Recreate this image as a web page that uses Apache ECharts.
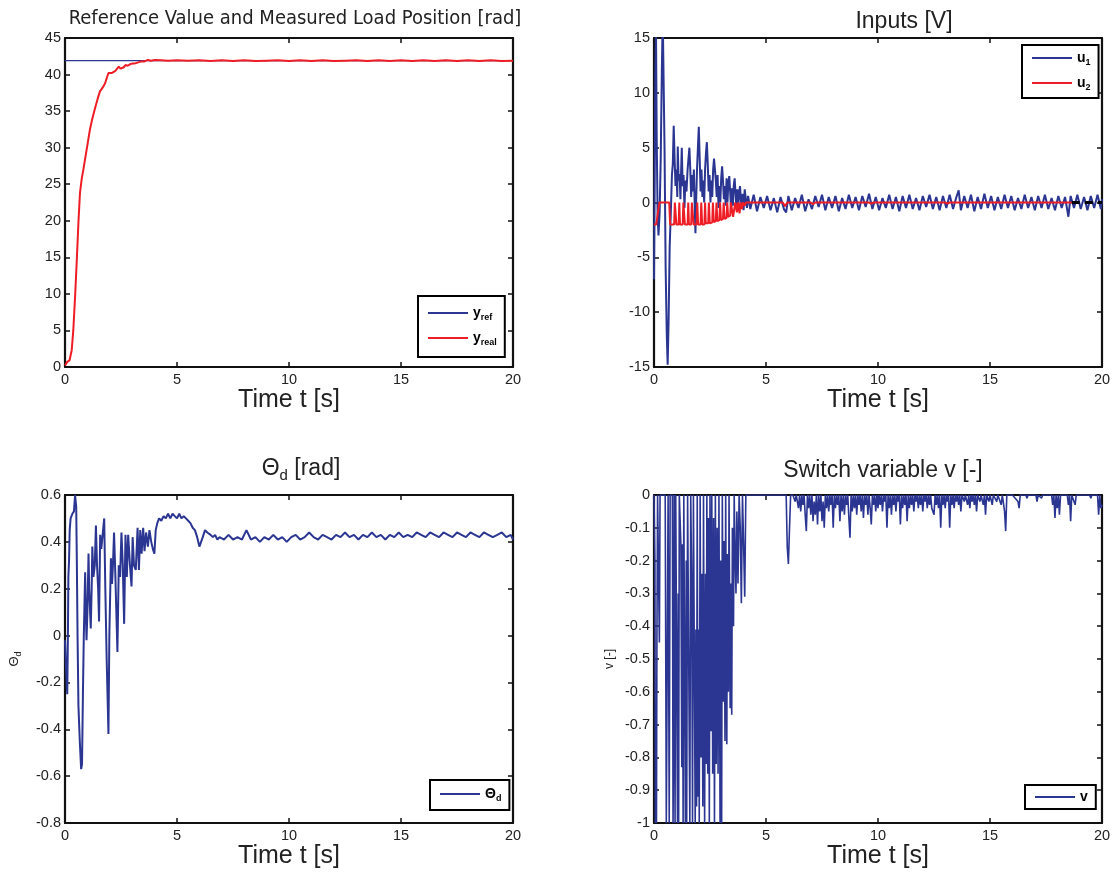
<!DOCTYPE html>
<html><head><meta charset="utf-8">
<script src="https://cdn.jsdelivr.net/npm/echarts@6/dist/echarts.min.js"></script>
<style>html,body{margin:0;padding:0;background:#fff}#c{width:1115px;height:875px}</style>
</head><body><div id="c"></div>
<script>
// ---------- data (time [s], value) ----------
const xTicks = [0, 5, 10, 15, 20];
const yRef = [[0, 41.9], [20, 41.9]];
const yReal = [[0,0.2],[0.1,0.7],[0.2,0.9],[0.3,2.3],[0.37,5],[0.45,9.6],[0.52,14.2],[0.6,19.8],[0.67,23.9],[0.75,25.8],[0.82,27],[0.9,28.5],[0.97,29.8],[1.05,31.3],[1.12,32.6],[1.2,33.7],[1.34,35.4],[1.45,36.6],[1.56,37.7],[1.68,38.2],[1.79,38.8],[1.87,39.6],[1.94,40.2],[2.0,40.1],[2.08,40.2],[2.15,40.0],[2.25,40.5],[2.4,41.1],[2.48,40.8],[2.55,40.9],[2.62,41.0],[2.7,41.3],[2.8,41.2],[2.9,41.4],[3.0,41.5],[3.1,41.5],[3.2,41.6],[3.3,41.7],[3.4,41.8],[3.55,41.8],[3.7,42.0],[3.85,41.9],[4.0,42.0],[4.3,41.95],[4.6,41.9],[5,41.95],[5.5,41.9],[6,41.95],[6.5,41.85],[7,41.95],[7.5,41.85],[8,41.95],[8.5,41.85],[9,41.9],[9.5,41.95],[10,41.85],[10.5,41.95],[11,41.85],[11.5,41.95],[12,41.85],[12.5,41.9],[13,41.95],[13.5,41.85],[14,41.95],[14.5,41.85],[15,41.95],[15.5,41.85],[16,41.95],[16.5,41.85],[17,41.95],[17.5,41.85],[18,41.95],[18.5,41.85],[19,41.95],[19.5,41.85],[20,41.9]];

const u1 = [[0,-7],[0.03,2],[0.06,12],[0.09,15.5],[0.12,6],[0.16,-1],[0.2,-3],[0.25,-1],[0.3,4],[0.35,12],[0.39,17],[0.43,17],[0.47,5],[0.52,-6],[0.57,-12],[0.61,-14.8],[0.65,-11],[0.7,-4],[0.75,-1],[0.8,2.5],[0.84,3.5],[0.88,7],[0.92,4],[0.96,1.5],[1.0,3],[1.04,0.5],[1.06,5.1],[1.1,2],[1.14,2.6],[1.18,0.3],[1.21,2.8],[1.24,5],[1.28,1.5],[1.32,2.5],[1.36,-0.5],[1.4,2],[1.45,1],[1.5,3],[1.54,4],[1.58,5],[1.62,3],[1.66,0.5],[1.7,2.5],[1.74,1],[1.78,3],[1.82,-0.5],[1.85,-2.8],[1.88,0],[1.92,3],[1.96,5],[2.0,6.9],[2.04,4],[2.08,1],[2.12,3],[2.16,0.5],[2.2,2],[2.24,0],[2.28,3],[2.32,4.5],[2.36,5.5],[2.4,3.5],[2.44,1],[2.48,2.5],[2.52,0],[2.56,2],[2.6,0.5],[2.64,3],[2.68,4],[2.72,4.1],[2.76,2],[2.8,0.5],[2.84,2.5],[2.88,-0.5],[2.92,1.5],[2.96,0],[3.0,2.2],[3.04,3.3],[3.08,2],[3.12,0.3],[3.16,1.5],[3.2,-0.3],[3.24,2.2],[3.28,0],[3.32,1.8],[3.36,2.4],[3.4,1],[3.44,-0.5],[3.48,1.3],[3.52,-0.3],[3.56,1.5],[3.6,2.2],[3.64,0.8],[3.68,-0.5],[3.72,1.2],[3.76,-0.6],[3.8,0.9],[3.84,1.5],[3.88,0.2],[3.92,-0.4],[3.96,0.8],[4.0,-0.7],[4.05,1.2],[4.1,0.3],[4.15,-0.5],[4.2,0.6],
[4.3,-0.6],[4.45,0.7],[4.6,-0.8],[4.75,0.5],[4.9,-0.5],[5.05,0.6],[5.2,-0.7],[5.35,0.4],[5.5,-0.9],[5.65,0.5],[5.8,-0.6],[5.9,-0.9],[6.0,0.6],[6.15,-0.7],[6.3,0.4],[6.45,-0.5],[6.6,0.7],[6.75,-0.8],[6.9,0.3],[7.05,-0.6],[7.2,0.6],[7.35,-0.4],[7.5,0.7],[7.65,-0.7],[7.8,0.5],[7.95,-0.5],[8.1,0.6],[8.25,-0.8],[8.4,0.4],[8.55,-0.6],[8.7,0.7],[8.85,-0.5],[9.0,0.5],[9.15,-0.7],[9.3,0.6],[9.45,-0.4],[9.6,0.8],[9.75,-0.6],[9.9,0.5],[10.05,-0.7],[10.2,0.4],[10.35,-0.5],[10.5,0.7],[10.65,-0.6],[10.8,0.5],[10.95,-0.8],[11.1,0.6],[11.25,-0.5],[11.4,0.7],[11.55,-0.6],[11.7,0.4],[11.85,-0.7],[12.0,0.6],[12.15,-0.4],[12.3,0.7],[12.45,-0.6],[12.6,0.5],[12.75,-0.7],[12.9,0.6],[13.05,-0.5],[13.2,0.7],[13.35,-0.6],[13.5,0.5],[13.6,1.1],[13.7,-0.7],[13.85,0.6],[14.0,-0.5],[14.15,0.7],[14.3,-0.8],[14.45,0.5],[14.6,-0.6],[14.75,0.8],[14.9,-0.5],[15.05,0.6],[15.2,-0.7],[15.35,0.5],[15.5,-0.6],[15.65,0.7],[15.8,-0.5],[15.95,0.6],[16.1,-0.7],[16.25,0.4],[16.4,-0.6],[16.55,0.7],[16.7,-0.5],[16.85,0.5],[17.0,-0.7],[17.15,0.6],[17.3,-0.5],[17.45,0.7],[17.6,-0.6],[17.75,0.4],[17.9,-0.7],[18.05,0.6],[18.2,-0.5],[18.35,0.5],[18.5,-1.3],[18.6,0.6],[18.75,-0.5],[18.9,0.7],[19.05,-0.6],[19.2,0.5],[19.35,-0.7],[19.5,0.6],[19.65,-0.5],[19.8,0.7],[19.95,-0.6],[20.0,0.3]];

const u2 = [[0,-2],[0.1,-2],[0.24,0],[0.68,0],[0.72,-2],[0.9,-2],[0.93,0],[0.97,0],[1.0,-2],[1.1,-2],[1.13,0],[1.16,-2],[1.28,-2],[1.31,0],[1.35,0],[1.38,-2],[1.5,-2],[1.53,0],[1.56,-2],[1.66,-2],[1.69,0],[1.74,0],[1.77,-2],[1.9,-2],[1.93,0],[1.97,-2],[2.08,-2],[2.11,0],[2.15,-2],[2.25,-2],[2.28,0],[2.31,-1.9],[2.42,-1.9],[2.45,0],[2.49,-1.9],[2.6,-1.8],[2.63,0],[2.67,-1.8],[2.76,-1.7],[2.79,0],[2.83,-1.7],[2.92,-1.6],[2.95,0],[2.99,-1.6],[3.08,-1.5],[3.11,0],[3.15,-1.5],[3.24,-1.4],[3.27,0],[3.31,-1.3],[3.4,-1.2],[3.43,0],[3.5,0],[3.53,-1.3],[3.6,-1.2],[3.63,0],[3.7,-0.9],[3.75,0],[3.82,-1.0],[3.86,0],[3.93,-0.6],[3.97,0],[4.05,-0.3],[4.1,0],[5.75,0],[5.85,-0.35],[5.95,0],[7.0,0],[7.1,-0.15],[7.2,0],[9.6,0],[9.7,-0.1],[9.8,0],[13.0,0],[13.1,-0.1],[13.2,0],[18.65,0]];
const zeroTail = [[18.65,0],[20,0]];

const thetaD = [[0,-0.02],[0.05,-0.15],[0.1,-0.25],[0.13,0.0],[0.15,0.25],[0.18,0.32],[0.21,0.45],[0.25,0.5],[0.33,0.52],[0.4,0.53],[0.45,0.6],[0.5,0.55],[0.53,0.3],[0.56,0.0],[0.6,-0.3],[0.66,-0.45],[0.72,-0.57],[0.76,-0.55],[0.8,-0.25],[0.84,0.0],[0.9,0.27],[0.93,0.1],[0.96,-0.02],[1.0,0.1],[1.05,0.35],[1.08,0.2],[1.15,0.03],[1.19,0.2],[1.22,0.38],[1.27,0.25],[1.33,0.3],[1.38,0.47],[1.43,0.3],[1.48,0.2],[1.52,0.06],[1.57,0.43],[1.62,0.37],[1.67,0.42],[1.75,0.5],[1.8,0.2],[1.86,-0.1],[1.94,-0.42],[1.98,0.0],[2.05,0.33],[2.1,0.22],[2.14,0.3],[2.19,0.44],[2.25,0.25],[2.34,-0.07],[2.4,0.3],[2.46,0.25],[2.52,0.44],[2.58,0.3],[2.64,0.05],[2.7,0.43],[2.76,0.25],[2.82,0.43],[2.9,0.3],[2.97,0.21],[3.02,0.42],[3.08,0.3],[3.16,0.28],[3.24,0.46],[3.3,0.28],[3.36,0.45],[3.42,0.35],[3.49,0.46],[3.55,0.36],[3.62,0.44],[3.7,0.38],[3.77,0.45],[3.85,0.4],[3.92,0.37],[3.99,0.35],[4.05,0.45],[4.12,0.48],[4.2,0.5],[4.3,0.49],[4.4,0.51],[4.5,0.5],[4.6,0.52],[4.7,0.5],[4.8,0.52],[4.9,0.51],[5.0,0.5],[5.1,0.52],[5.2,0.5],[5.3,0.51],[5.4,0.5],[5.5,0.49],[5.6,0.48],[5.7,0.46],[5.8,0.45],[5.9,0.42],[6.0,0.38],[6.05,0.38],[6.15,0.42],[6.25,0.45],[6.35,0.44],[6.5,0.43],[6.6,0.42],[6.7,0.43],[6.8,0.41],[6.9,0.42],[7.1,0.41],[7.3,0.43],[7.5,0.41],[7.7,0.42],[7.9,0.41],[8.1,0.45],[8.3,0.41],[8.5,0.42],[8.7,0.40],[8.9,0.42],[9.1,0.41],[9.3,0.43],[9.5,0.41],[9.7,0.42],[9.9,0.40],[10.1,0.42],[10.3,0.43],[10.5,0.41],[10.7,0.42],[10.9,0.44],[11.1,0.42],[11.3,0.41],[11.5,0.43],[11.7,0.42],[11.9,0.41],[12.1,0.43],[12.3,0.42],[12.5,0.44],[12.7,0.42],[12.9,0.43],[13.1,0.41],[13.3,0.43],[13.5,0.42],[13.7,0.44],[13.9,0.42],[14.1,0.43],[14.3,0.41],[14.5,0.43],[14.7,0.42],[14.9,0.44],[15.1,0.42],[15.3,0.43],[15.5,0.42],[15.7,0.44],[15.9,0.43],[16.1,0.42],[16.3,0.44],[16.5,0.43],[16.7,0.42],[16.9,0.44],[17.1,0.43],[17.3,0.42],[17.5,0.44],[17.7,0.43],[17.9,0.42],[18.1,0.44],[18.3,0.43],[18.5,0.42],[18.7,0.44],[18.9,0.43],[19.1,0.42],[19.3,0.43],[19.5,0.44],[19.7,0.42],[19.9,0.43],[20,0.41]];

const vSwitch = [[0,0],[0.04,-0.2],[0.06,-1],[0.09,-0.8],[0.11,-1],[0.13,-0.45],[0.16,0],[0.24,-0.45],[0.27,0],[0.5,0],[0.55,-1],[0.6,-1],[0.63,0],[0.68,-1],[0.72,0],[0.82,0],[0.85,-1],[0.88,-0.7],[0.9,0],[0.94,-1],[0.97,0],[1.03,0],[1.05,-1],[1.08,-0.3],[1.1,-1],[1.13,0],[1.2,-0.15],[1.24,-0.83],[1.27,-0.15],[1.3,-1],[1.33,0],[1.38,0],[1.4,-1],[1.44,-0.2],[1.46,-1],[1.5,0],[1.58,0],[1.6,-1],[1.64,0],[1.68,-0.25],[1.72,-1],[1.76,0],[1.82,0],[1.84,-1],[1.87,-0.41],[1.9,-0.95],[1.93,0],[1.96,-0.92],[2.0,-0.41],[2.02,-1],[2.06,0],[2.1,-0.8],[2.14,-0.24],[2.18,-0.95],[2.21,0],[2.26,-1],[2.3,-0.24],[2.33,-0.82],[2.36,0],[2.4,-0.85],[2.43,-0.07],[2.47,-1],[2.5,0],[2.55,-0.72],[2.58,0],[2.62,-0.85],[2.66,-0.07],[2.7,-1],[2.74,0],[2.78,-0.82],[2.82,-0.1],[2.86,-0.85],[2.9,0],[2.95,-1],[2.98,-0.2],[3.02,-1],[3.05,0],[3.1,-0.63],[3.13,-0.14],[3.17,-0.75],[3.2,0],[3.25,-0.76],[3.28,-0.18],[3.32,-0.6],[3.35,0],[3.4,-0.65],[3.43,-0.27],[3.47,-0.67],[3.5,-0.1],[3.55,-0.4],[3.58,0],[3.62,-0.18],[3.66,-0.3],[3.7,-0.05],[3.75,-0.27],[3.8,0],[3.85,-0.1],[3.9,-0.33],[3.95,0],[4.0,-0.15],[4.05,-0.31],[4.1,0],[5.9,0],[5.95,-0.16],[6.0,-0.21],[6.05,-0.1],[6.1,0],
[6.2,0],[6.3,-0.02],[6.35,0],[6.45,-0.04],[6.5,0],[6.55,-0.05],[6.6,0],[6.65,-0.03],[6.7,0],[6.75,-0.06],[6.8,-0.11],[6.85,0],[6.9,-0.04],[6.95,0],[7.0,-0.06],[7.05,0],[7.1,-0.08],[7.15,-0.02],[7.2,-0.06],[7.25,0],[7.3,-0.09],[7.35,0],[7.4,-0.05],[7.45,0],[7.5,-0.08],[7.55,-0.02],[7.6,-0.1],[7.65,0],[7.7,-0.04],[7.75,0],[7.8,-0.05],[7.85,0],[7.9,-0.03],[7.95,0],[8.0,-0.1],[8.05,0],[8.1,-0.04],[8.15,0],[8.2,-0.03],[8.25,0],[8.3,-0.08],[8.35,0],[8.4,-0.05],[8.45,0],[8.5,-0.06],[8.55,0],[8.6,-0.03],[8.65,0],[8.7,-0.07],[8.75,-0.13],[8.8,0],[8.85,-0.05],[8.9,0],[8.95,-0.04],[9.0,0],[9.05,-0.06],[9.1,0],[9.15,-0.03],[9.2,0],[9.25,-0.05],[9.3,0],[9.35,-0.07],[9.4,0],[9.45,-0.03],[9.5,0],[9.55,-0.06],[9.6,0],[9.65,-0.04],[9.7,-0.09],[9.75,0],[9.8,-0.03],[9.85,0],[9.9,-0.05],[9.95,0],[10.0,-0.04],[10.05,0],[10.1,-0.03],[10.15,0],[10.2,-0.05],[10.25,0],[10.3,-0.02],[10.35,0],[10.4,-0.1],[10.45,0],[10.5,-0.04],[10.55,0],[10.6,-0.06],[10.65,0],[10.7,-0.03],[10.75,0],[10.8,-0.05],[10.85,0],[10.9,-0.02],[10.95,0],[11.0,-0.09],[11.05,0],[11.1,-0.04],[11.15,0],[11.2,-0.03],[11.25,0],[11.3,-0.08],[11.35,0],[11.4,-0.04],[11.45,0],[11.5,-0.03],[11.55,0],[11.6,-0.05],[11.65,0],[11.7,-0.02],[11.75,0],[11.8,-0.04],[11.85,0],[11.9,-0.03],[11.95,0],[12.0,-0.05],[12.05,0],[12.1,-0.02],[12.15,0],[12.2,-0.04],[12.25,0],[12.3,-0.03],[12.35,0],[12.4,-0.04],[12.5,-0.06],[12.55,0],[12.6,-0.03],[12.65,0],[12.7,-0.04],[12.75,0],[12.8,-0.1],[12.85,0],[12.9,-0.03],[12.95,0],[13.0,-0.04],[13.05,0],[13.1,-0.02],[13.15,0],[13.2,-0.1],[13.25,0],[13.3,-0.03],[13.35,0],[13.4,-0.04],[13.45,0],[13.5,-0.02],[13.55,0],[13.6,-0.03],[13.65,0],[13.7,-0.05],[13.75,0],[13.85,-0.02],[13.9,0],[14.0,-0.03],[14.05,0],[14.1,-0.04],[14.15,0],[14.2,-0.02],[14.25,0],[14.3,-0.03],[14.35,0],[14.4,-0.05],[14.45,0],[14.55,-0.02],[14.6,0],[14.7,-0.03],[14.75,0],[14.8,-0.06],[14.85,0],[14.95,-0.02],[15.0,0],[15.1,-0.03],[15.15,0],[15.3,-0.02],[15.35,0],[15.5,-0.03],[15.55,0],[15.65,-0.05],[15.7,-0.11],[15.75,0],[16.0,0],[16.25,-0.02],[16.3,-0.04],[16.35,0],[16.6,0],[16.65,-0.01],[16.7,0],[17.05,0],[17.1,-0.02],[17.15,0],[17.3,-0.01],[17.35,0],[17.75,0],[17.8,-0.03],[17.85,0],[17.9,-0.07],[17.95,0],[18.0,-0.04],[18.05,0],[18.1,-0.06],[18.15,0],[18.45,0],[18.5,-0.03],[18.55,0],[18.6,-0.08],[18.65,0],[18.75,-0.02],[18.8,-0.03],[18.85,0],[19.45,0],[19.5,-0.01],[19.55,0],[19.8,0],[19.85,-0.06],[19.9,0],[19.95,-0.04],[20,-0.03]];

// ---------- styling ----------
const BLUE = '#2B3592', RED = '#EE1D25';
const FONT = "'Liberation Sans', Arial, sans-serif";
const grids = [
  {left: 65, top: 38, width: 448, height: 329},
  {left: 654, top: 38, width: 448, height: 329},
  {left: 65, top: 495, width: 448, height: 328},
  {left: 654, top: 495, width: 448, height: 328}
];
const yRanges = [[0,45,5],[-15,15,5],[-0.8,0.6,0.2],[-1,0,0.1]];
const axLine = {show: true, onZero: false, lineStyle: {color: '#111', width: 2.2}};
const tick = {inside: true, length: 5, lineStyle: {color: '#111', width: 1.5}};
const xAxes = [], yAxes = [];
grids.forEach((g, i) => {
  xAxes.push({gridIndex: i, type: 'value', min: 0, max: 20, interval: 5, position: 'bottom',
    axisLine: axLine, axisTick: tick,
    axisLabel: {color: '#222', fontSize: 14.5, fontFamily: FONT, margin: 5},
    splitLine: {show: false},
    name: 'Time t [s]', nameLocation: 'middle', nameGap: 21,
    nameTextStyle: {fontSize: 25, color: '#222', fontFamily: FONT}});
  xAxes.push({gridIndex: i, type: 'value', min: 0, max: 20, interval: 5, position: 'top',
    axisLine: axLine, axisTick: tick, axisLabel: {show: false}, splitLine: {show: false}});
  const r = yRanges[i];
  yAxes.push({gridIndex: i, type: 'value', min: r[0], max: r[1], interval: r[2], position: 'left',
    axisLine: axLine, axisTick: tick,
    axisLabel: {color: '#222', fontSize: 14.5, fontFamily: FONT, margin: 4,
      formatter: v => String(Math.round(v * 10) / 10)},
    splitLine: {show: false}});
  yAxes.push({gridIndex: i, type: 'value', min: r[0], max: r[1], interval: r[2], position: 'right',
    axisLine: axLine, axisTick: tick, axisLabel: {show: false}, splitLine: {show: false}});
});
yAxes[4].name = '{t|Θ}{s|d}';
yAxes[4].nameLocation = 'middle'; yAxes[4].nameGap = 42;
yAxes[4].nameTextStyle = {color: '#222', fontFamily: FONT,
  rich: {t: {fontSize: 13, fontFamily: FONT, color: '#222'}, s: {fontSize: 9, fontFamily: FONT, color: '#222', padding: [8, 0, 0, 0]}}};
yAxes[6].name = 'v [-]';
yAxes[6].nameLocation = 'middle'; yAxes[6].nameGap = 38;
yAxes[6].nameTextStyle = {color: '#222', fontSize: 12, fontFamily: FONT};

function line(name, data, gi, color, width, extra) {
  return Object.assign({name: name, type: 'line', xAxisIndex: gi * 2, yAxisIndex: gi * 2,
    data: data, symbol: 'none', showSymbol: false, animation: false, clip: true,
    lineStyle: {color: color, width: width}, itemStyle: {color: color}}, extra || {});
}
const series = [
  line('y_ref', yRef, 0, BLUE, 1.2),
  line('y_real', yReal, 0, RED, 2),
  line('u_1', u1, 1, BLUE, 2),
  line('u_2', u2, 1, RED, 2),
  line('zero', zeroTail, 1, '#000', 3, {lineStyle: {color: '#000', width: 3, type: [8, 5]}}),
  line('Θ_d', thetaD, 2, BLUE, 2),
  line('v', vSwitch, 3, BLUE, 1.6)
];
const legRich = {
  m: {fontSize: 14, fontWeight: 'bold', fontFamily: FONT, color: '#000'},
  s: {fontSize: 9, fontWeight: 'bold', fontFamily: FONT, color: '#000', padding: [9, 0, 0, 0]}
};
const legFmt = n => {
  const p = n.split('_');
  return p.length > 1 ? '{m|' + p[0] + '}{s|' + p[1] + '}' : '{m|' + n + '}';
};
function legend(items, left, top, pad, gap) {
  return {data: items, orient: 'vertical', left: left, top: top, padding: pad,
    icon: 'rect', itemWidth: 40, itemHeight: 2, itemGap: gap, borderColor: '#000', borderWidth: 2,
    backgroundColor: '#fff', formatter: legFmt, selectedMode: false,
    textStyle: {rich: legRich}};
}
const titleStyle = {fontSize: 23, fontWeight: 'normal', color: '#222', fontFamily: FONT};
const option = {
  backgroundColor: '#fff',
  animation: false,
  title: [
    {text: 'Reference Value and Measured Load Position [rad]', left: 290, top: 4, textAlign: 'center',
      textStyle: Object.assign({}, titleStyle, {fontSize: 20, fontFamily: "'Liberation Sans Narrow', 'DejaVu Sans Condensed', Arial"})},
    {text: 'Inputs [V]', left: 899, top: 5, textAlign: 'center', textStyle: titleStyle},
    {text: '{a|Θ}{s|d}{a| [rad]}', left: 296, top: 450, textAlign: 'center',
      textStyle: Object.assign({}, titleStyle, {rich: {a: {fontSize: 23, fontFamily: FONT, color: '#222'}, s: {fontSize: 15, fontFamily: FONT, color: '#222', padding: [13, 0, 0, 0]}}})},
    {text: 'Switch variable v [-]', left: 878, top: 454, textAlign: 'center', textStyle: titleStyle}
  ],
  grid: grids,
  xAxis: xAxes,
  yAxis: yAxes,
  legend: [
    legend(['y_ref', 'y_real'], 418, 296, [10, 8, 10, 10], 9),
    legend(['u_1', 'u_2'], 1022, 45, [6, 8, 6, 10], 9),
    legend(['Θ_d'], 430, 780, [7, 8, 7, 10], 8),
    legend(['v'], 1025, 785, [5, 8, 5, 10], 8)
  ],
  series: series
};
const chart = echarts.init(document.getElementById('c'), null, {renderer: 'canvas'});
chart.setOption(option);
</script></body></html>
